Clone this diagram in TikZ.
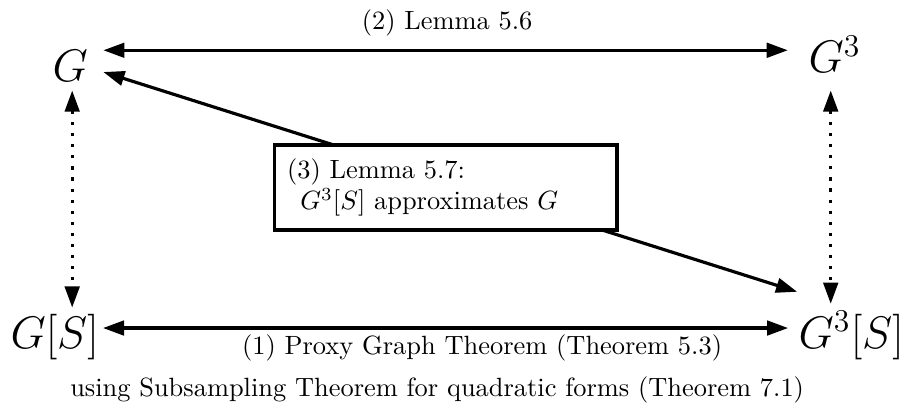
\documentclass[tikz,border=0pt]{standalone}
\usepackage{amsmath,amssymb}
\usetikzlibrary{arrows.meta}

\begin{document}
\begin{tikzpicture}[x=1cm, y=1cm,
    grand/.style={inner sep=0pt, anchor=base west, font=\LARGE},
    fleche/.style={line width=1.2pt, {Triangle[length=8pt,width=5.5pt]}-{Triangle[length=8pt,width=5.5pt]}},
    pointille/.style={fleche, dash pattern=on 1.2pt off 3pt}]
    \useasboundingbox (0,0) rectangle (11.99,5.377);

    % Sommets
    \node[grand] (G) at (0.692,4.286) {$G$};
    \node[grand] (G3) at (10.754,4.406) {$G^3$};
    \node[grand] (GS) at (0.133,0.745) {$G[S]$};
    \node[grand] (G3S) at (10.621,0.745) {$G^3[S]$};

    % (2) Lemme 5.6
    \draw[fleche, shorten <=0.2cm, shorten >=0.27cm] (G.north east) -- (G3.west |- G.north east);
    \node (lem56) at (5.95,5.071) {(2) Lemma 5.6};

    % (3) Lemme 5.7
    \draw[fleche] ([shift={(0.2,-0.075)}]G.east) -- ([shift={(-0.013,0.25)}]G3S.north west);
    \node[draw, line width=1.2pt, fill=white, text width=120pt, inner xsep=4.9pt, minimum height=32.2pt, align=left] (lem57) at (5.93,2.882) {(3) Lemma 5.7:\\ \hspace*{5pt}$G^3[S]$ approximates $G$};

    % Pointilles
    \draw[pointille, shorten <=0.107cm, shorten >=0.077cm] ([xshift=0.027cm]G.south) -- ([xshift=0.027cm]G.south |- GS.north);
    \draw[pointille, shorten <=0.226cm, shorten >=0.09cm] ([xshift=-0.053cm]G3.south) -- ([xshift=-0.053cm]G3.south |- G3S.north);

    % (1) Proxy Graph
    \draw[fleche, shorten <=0.05cm, shorten >=0.133cm] ([yshift=0.115cm]GS.east) -- ([yshift=0.115cm]GS.east -| G3S.west);
    \node (prox) at (6.415,0.752) {(1) Proxy Graph Theorem (Theorem 5.3)};
    \node (subs) at (5.817,0.185) {using Subsampling Theorem for quadratic forms (Theorem 7.1)};
\end{tikzpicture}
\end{document}
